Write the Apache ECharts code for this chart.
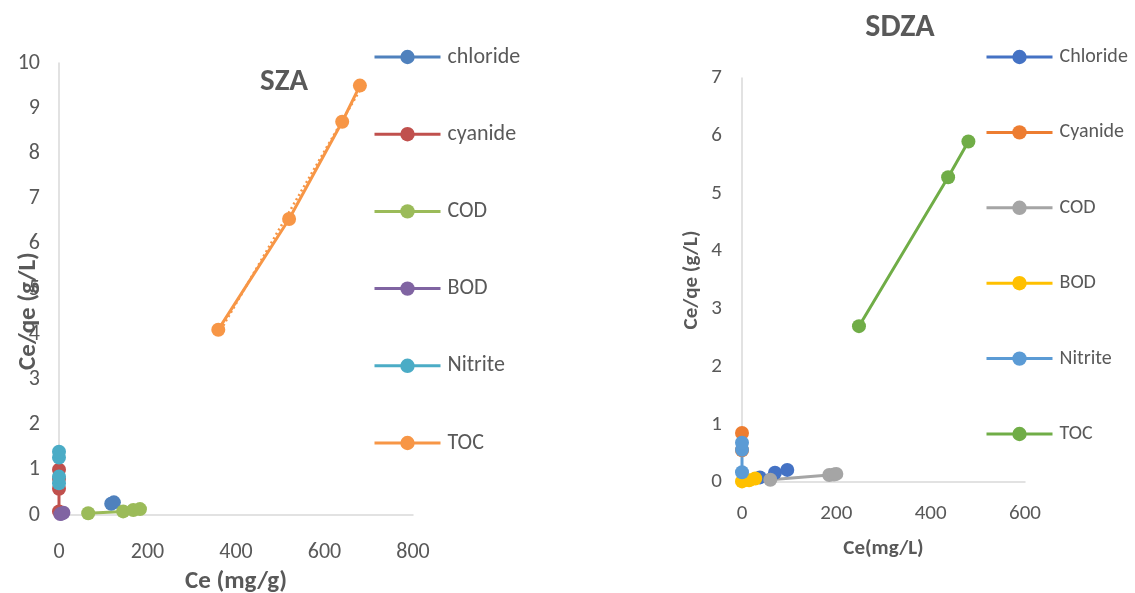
<!DOCTYPE html>
<html lang="en">
<head>
    <meta charset="UTF-8">
    <title>SZA / SDZA</title>
    <style>
        html, body { margin: 0; padding: 0; background: #fff; }
        #main { width: 1135px; height: 593px; }
    </style>
    <script src="https://cdn.jsdelivr.net/npm/echarts@6/dist/echarts.min.js"></script>
</head>
<body>
<div id="main"></div>
<script type="text/javascript">

    // SZA panel: [Ce (mg/g), Ce/qe (g/L)]
    var szaChloride = [[118, 0.25], [124, 0.28]];
    var szaCyanide  = [[0, 0.08], [0, 0.58], [0, 0.8], [0, 1.0]];
    var szaCOD      = [[66, 0.04], [145, 0.08], [168, 0.11], [183, 0.13]];
    var szaBOD      = [[3, 0.02], [6, 0.03], [10, 0.05]];
    var szaNitrite  = [[0, 0.7], [0, 0.85], [0, 1.27], [0, 1.4]];
    var szaTOC      = [[360, 4.1], [520, 6.55], [640, 8.7], [680, 9.5]];
    var szaTOCTrend = [[360, 4.0], [680, 9.4]];   // dotted trendline as drawn

    // SDZA panel: [Ce (mg/L), Ce/qe (g/L)]
    var sdzaChloride = [[38, 0.08], [70, 0.16], [96, 0.21]];
    var sdzaCyanide  = [[0, 0.55], [0, 0.85]];
    var sdzaCOD      = [[60, 0.04], [185, 0.12], [195, 0.13], [200, 0.14]];
    var sdzaBOD      = [[0, 0.01], [15, 0.03], [28, 0.06]];
    var sdzaNitrite  = [[0, 0.17], [0, 0.56], [0, 0.68]];
    var sdzaTOC      = [[248, 2.7], [437, 5.28], [480, 5.9]];

    var szaNames  = ['chloride', 'cyanide', 'COD', 'BOD', 'Nitrite', 'TOC'];
    var sdzaNames = ['Chloride', 'Cyanide', 'COD', 'BOD', 'Nitrite', 'TOC'];

    var szaColors  = ['#4F81BD', '#C0504D', '#9BBB59', '#8064A2', '#4BACC6', '#F79646'];
    var sdzaColors = ['#4472C4', '#ED7D31', '#A5A5A5', '#FFC000', '#5B9BD5', '#70AD47'];

    var szaData  = [szaChloride, szaCyanide, szaCOD, szaBOD, szaNitrite, szaTOC];
    var sdzaData = [sdzaChloride, sdzaCyanide, sdzaCOD, sdzaBOD, sdzaNitrite, sdzaTOC];

    var FONT = 'Carlito, Lato, sans-serif';
    var GREY = '#595959';

    function lineSeries(name, data, color, gi) {
        return {
            name: name,
            type: 'line',
            xAxisIndex: gi,
            yAxisIndex: gi,
            data: data,
            symbol: 'circle',
            symbolSize: 14,
            lineStyle: { width: 3, color: color },
            itemStyle: { color: color },
            emphasis: { disabled: true }
        };
    }

    // gi: grid index, fs: tick font size, nfs: name font size
    function valueAxis(gi, min, max, interval, name, nameGap, fs, nfs, margin, namePad) {
        return {
            type: 'value',
            gridIndex: gi,
            min: min,
            max: max,
            interval: interval,
            name: name,
            nameLocation: 'middle',
            nameGap: nameGap,
            nameMoveOverlap: false,
            nameTextStyle: { fontFamily: FONT, fontSize: nfs, fontWeight: 'bold', color: GREY, padding: namePad || 0 },
            axisLine: { show: true, lineStyle: { color: '#D9D9D9', width: 1.5 } },
            axisTick: { show: false },
            splitLine: { show: false },
            axisLabel: { fontFamily: FONT, fontSize: fs, color: GREY, margin: margin }
        };
    }

    var series = [];
    szaNames.forEach(function (n, i) {
        series.push(lineSeries(n, szaData[i], szaColors[i], 0));
    });
    series.push({
        name: 'Linear (TOC)',
        type: 'line',
        xAxisIndex: 0,
        yAxisIndex: 0,
        data: szaTOCTrend,
        symbol: 'none',
        lineStyle: { width: 2.5, color: '#F79646', type: [2, 3] },
        z: 1
    });
    sdzaNames.forEach(function (n, i) {
        series.push(lineSeries('SDZA ' + n, sdzaData[i], sdzaColors[i], 1));
    });

    var myChart = echarts.init(document.getElementById('main'));
    var option = {
        animation: false,
        backgroundColor: '#fff',
        title: [
            { text: 'SZA', left: 284, top: 67, textAlign: 'center', padding: 0,
              textStyle: { fontFamily: FONT, fontSize: 31, fontWeight: 'bold', color: GREY } },
            { text: 'SDZA', left: 900, top: 12, textAlign: 'center', padding: 0,
              textStyle: { fontFamily: FONT, fontSize: 32, fontWeight: 'bold', color: GREY } }
        ],
        legend: [
            {
                left: 373, top: 46, orient: 'vertical', padding: 0,
                data: szaNames,
                itemWidth: 66, itemHeight: 18, itemGap: 55.2,
                lineStyle: { width: 3 },
                selectedMode: false,
                textStyle: { fontFamily: FONT, fontSize: 22, lineHeight: 18, color: GREY, padding: [0, 0, 0, 2] }
            },
            {
                left: 985, top: 47, orient: 'vertical', padding: 0,
                data: sdzaNames.map(function (n) { return 'SDZA ' + n; }),
                formatter: function (n) { return n.replace('SDZA ', ''); },
                itemWidth: 66, itemHeight: 18, itemGap: 55.4,
                lineStyle: { width: 3 },
                selectedMode: false,
                textStyle: { fontFamily: FONT, fontSize: 20, lineHeight: 18, color: GREY, padding: [0, 0, 0, 2] }
            }
        ],
        grid: [
            { left: 59, top: 63, width: 354, height: 452, outerBoundsMode: 'none' },
            { left: 742, top: 78, width: 283, height: 404, outerBoundsMode: 'none' }
        ],
        xAxis: [
            valueAxis(0, 0, 800, 200, 'Ce (mg/g)', 54, 22, 25, 26),
            valueAxis(1, 0, 600, 200, 'Ce(mg/L)', 56, 21, 21, 21)
        ],
        yAxis: [
            valueAxis(0, 0, 10, 1, 'Ce/qe (g/L)', 18, 22, 25, 19, [0, 44, 0, 0]),
            valueAxis(1, 0, 7, 1, 'Ce/qe (g/L)', 40, 21, 21, 20)
        ],
        series: series
    };
    myChart.setOption(option);

</script>
</body>
</html>
